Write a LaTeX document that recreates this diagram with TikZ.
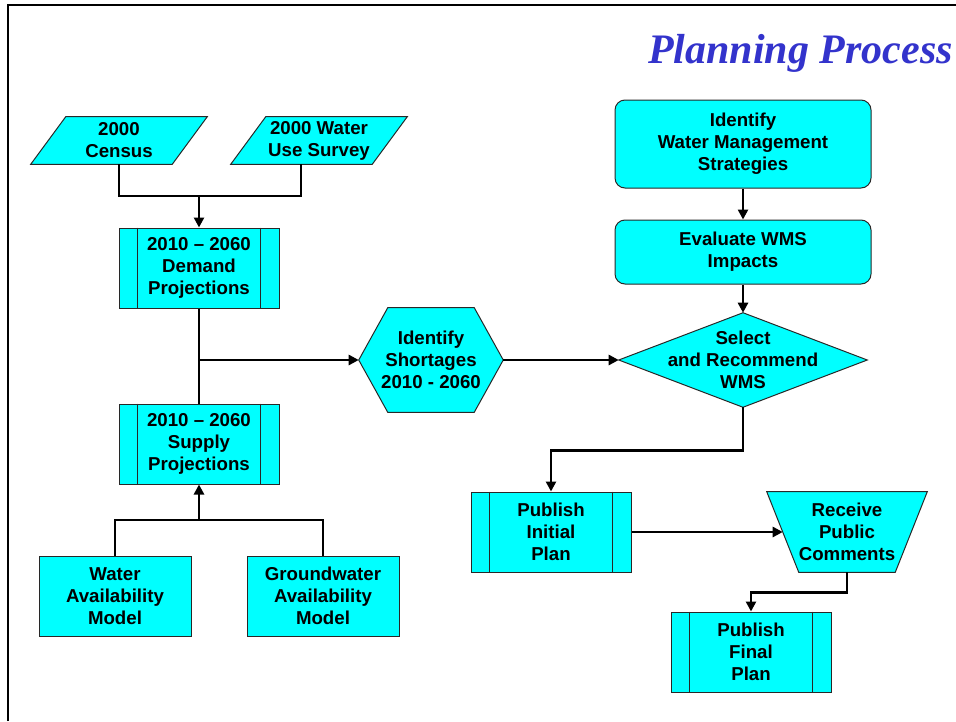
\documentclass[tikz,border=0pt]{standalone}
\usepackage{fontspec}
\setmainfont{Liberation Sans}
\newfontfamily\titlefont{Liberation Serif}
\usetikzlibrary{arrows.meta,calc}
\pgfdeclarelayer{background}
\pgfsetlayers{background,main}
\definecolor{boxfill}{RGB}{0,255,255}
\definecolor{boxedge}{RGB}{40,40,40}
\definecolor{titleblue}{RGB}{51,51,204}
\begin{document}
\begin{tikzpicture}[x=0.75pt,y=-0.75pt,
 lbl/.style={inner sep=0pt, align=center, font=\fontsize{14}{16.5}\selectfont\bfseries},
 box/.style={lbl, draw=boxedge, fill=boxfill, line width=0.75pt},
 procbox/.style={box, minimum width=120pt, minimum height=60pt},
 modelbox/.style={box, minimum width=114pt, minimum height=60pt},
 roundbox/.style={box, rounded corners=7.5pt, minimum width=192pt},
 outline/.style={draw=boxedge, fill=boxfill, line width=0.75pt, line join=miter},
 strip/.style={draw=boxedge, line width=0.75pt},
 conn/.style={draw=black, line width=2pt},
 arr/.style={conn, -{Triangle[length=7.5pt,width=7.5pt]}}]
\useasboundingbox (0,0) rectangle (956,721);
% frame
\draw[line width=1.8pt] (8,721) -- (8,5) -- (956,5);
% title
\node[anchor=base east, inner sep=0pt, text=titleblue,
      font=\titlefont\fontsize{31.5}{36}\selectfont\bfseries\itshape] (title) at (953,63) {Planning Process};
% input data
\node[lbl, minimum width=132pt, minimum height=35.25pt] (census) at (119,140.5) {2000\\Census};
\node[lbl, minimum width=132pt, minimum height=35.25pt] (survey) at (319,140.5) {2000 Water\\Use Survey};
% projections
\node[procbox] (demand) at (199,268) {2010 -- 2060\\Demand\\Projections};
\node[procbox] (supply) at (199,444) {2010 -- 2060\\Supply\\Projections};
% models
\node[modelbox] (wam) at (115,596) {Water\\Availability\\Model};
\node[modelbox] (gam) at (323,596) {Groundwater\\Availability\\Model};
% shortages
\node[lbl, minimum width=108pt, minimum height=78pt] (short) at (431,360) {Identify\\Shortages\\2010 - 2060};
% WMS
\node[roundbox, minimum height=66pt] (idwms) at (743,144) {Identify\\Water Management\\Strategies};
\node[roundbox, minimum height=48pt] (evalw) at (743,252) {Evaluate WMS\\Impacts};
\node[lbl, minimum width=186pt, minimum height=70.5pt] (sel) at (743,360) {Select\\and Recommend\\WMS};
% publishing
\node[procbox] (initial) at (551,532) {Publish\\Initial\\Plan};
\node[lbl, minimum width=120pt, minimum height=60pt] (recv) at (847,532) {Receive\\Public\\Comments};
\node[procbox] (final) at (751,652) {Publish\\Final\\Plan};
% strips of predefined process boxes
\foreach \n in {demand,supply,initial,final} {
  \draw[strip] ([xshift=14.25pt]\n.north west) -- ([xshift=14.25pt]\n.south west);
  \draw[strip] ([xshift=-14.25pt]\n.north east) -- ([xshift=-14.25pt]\n.south east);
}
% outlines of special shapes
\begin{pgfonlayer}{background}
  \foreach \n in {census,survey} {
    \path[outline] ([xshift=26.25pt]\n.north west) -- (\n.north east)
      -- ([xshift=-26.25pt]\n.south east) -- (\n.south west) -- cycle;
  }
  \path[outline] (short.west) -- ([xshift=21.75pt]short.north west)
    -- ([xshift=-21.75pt]short.north east) -- (short.east)
    -- ([xshift=-21.75pt]short.south east) -- ([xshift=21.75pt]short.south west) -- cycle;
  \path[outline] (sel.west) -- (sel.north) -- (sel.east) -- (sel.south) -- cycle;
  \path[outline] (recv.north west) -- (recv.north east)
    -- ([xshift=-24pt]recv.south east) -- ([xshift=24pt]recv.south west) -- cycle;
\end{pgfonlayer}
% connectors
\coordinate (j1) at (199,196);
\coordinate (j2) at (199,360);
\coordinate (j3) at (199,520);
\draw[conn] (census.south) |- (j1) -| ($(survey.south)+(-18,0)$);
\draw[arr] (j1) -- (demand.north);
\draw[conn] (demand.south) -- (supply.north);
\draw[arr] (j2) -- (short.west);
\draw[conn] (wam.north) |- (j3) -| (gam.north);
\draw[arr] (j3) -- (supply.south);
\draw[arr] (short.east) -- (sel.west);
\draw[arr] (idwms.south) -- (evalw.north);
\draw[arr] (evalw.south) -- (sel.north);
\draw[arr] (sel.south) -- ($(sel.south)+(0,43)$) -| (initial.north);
\draw[arr] (initial.east) -- ($(recv.west)+(16,0)$);
\draw[arr] (recv.south) -- ($(recv.south)+(0,20)$) -| (final.north);
\end{tikzpicture}
\end{document}
